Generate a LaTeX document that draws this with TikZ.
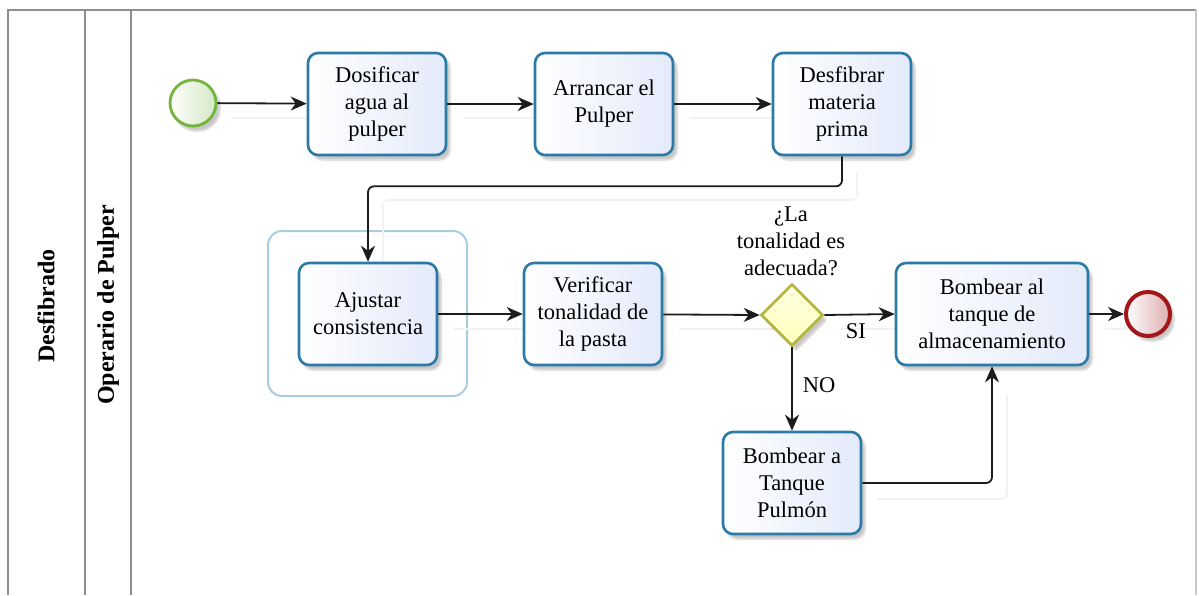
\documentclass[tikz,border=0pt]{standalone}
\usepackage{fontspec}
\setmainfont{Liberation Serif}
\usetikzlibrary{arrows.meta,shapes.geometric,shadows.blur}

\definecolor{taskline}{HTML}{2C7AA8}
\definecolor{taskfillA}{HTML}{FFFFFF}
\definecolor{taskfillB}{HTML}{E3EAFA}
\definecolor{groupline}{HTML}{A8CDE0}
\definecolor{gateline}{HTML}{B4B43C}
\definecolor{gatefill}{HTML}{FFFFE2}
\definecolor{startline}{HTML}{74B43E}
\definecolor{endline}{HTML}{A3171A}
\definecolor{poolline}{HTML}{8E8E8E}
\definecolor{flowcol}{HTML}{1C1C1C}

\tikzset{
  every node/.style={font=\fontsize{22.5}{27}\selectfont},
  softshadow/.style={blur shadow={shadow xshift=4pt, shadow yshift=-5pt, shadow opacity=22, shadow blur steps=6, shadow blur extra rounding=2pt}},
  task/.style={rectangle, rounded corners=10pt, draw=taskline, line width=2.6pt,
    left color=taskfillA, right color=taskfillB, minimum width=138pt, minimum height=102pt,
    align=center, inner sep=2pt, softshadow},
  gateway/.style={diamond, draw=gateline, line width=2.6pt, top color=gatefill, bottom color=gatefill!80!yellow!90!white,
    minimum width=62pt, minimum height=62pt, inner sep=0pt, softshadow},
  startev/.style={circle, draw=startline, line width=2.8pt, left color=white!85!startline!10, right color=startline!30!white,
    minimum size=46pt, inner sep=0pt, softshadow},
  endev/.style={circle, draw=endline, line width=4pt, left color=white, right color=endline!35!white,
    minimum size=44pt, inner sep=0pt, softshadow},
  flow/.style={draw=flowcol, line width=1.8pt, -{Stealth[length=16pt, width=14pt, inset=5pt]}},
  flowshade/.style={draw=black!5, line width=1.6pt},
  lanelabel/.style={font=\fontsize{24}{28}\selectfont\bfseries, rotate=90},
  lbl/.style={inner sep=0pt}
}

\begin{document}
\begin{tikzpicture}[x=1pt, y=-1pt]
  \useasboundingbox (0,0) rectangle (1199,595);

  % pool and lanes
  \draw[poolline, line width=2pt] (8,595) -- (8,10) -- (1196,10);
  \draw[poolline!50, line width=1.2pt] (1196,10) -- (1196,595);
  \draw[poolline, line width=2pt] (85,10) -- (85,595);
  \draw[poolline, line width=2pt] (131,10) -- (131,595);
  \node[lanelabel] (pool) at (46,306) {Desfibrado};
  \node[lanelabel] (lane) at (108,305) {Operario de Pulper};

  % group around the adjustment task
  \draw[groupline, line width=2pt, rounded corners=14pt] (268,231) rectangle (467,396);

  % connector shadows
  \begin{scope}[shift={(15,15)}]
    \draw[flowshade] (216,103) -- (306,103);
    \draw[flowshade] (448,103) -- (534,103);
    \draw[flowshade] (674,103) -- (771,103);
    \draw[flowshade, rounded corners=5pt] (842,157) -- (842,185) -- (368,185) -- (368,248);
    \draw[flowshade] (439,314) -- (523,314);
    \draw[flowshade] (664,314) -- (760,314);
    \draw[flowshade] (824,314) -- (894,314);
    \draw[flowshade] (1090,314) -- (1122,314);
    \draw[flowshade, rounded corners=5pt] (862,484) -- (992,484) -- (992,380);
  \end{scope}

  % events, tasks and gateway
  \node[startev] (start) at (193,103) {};
  \node[task] (dosif) at (377,104) {Dosificar\\agua al\\pulper};
  \node[task] (arran) at (604,104) {Arrancar el\\Pulper};
  \node[task] (desfib) at (842,104) {Desfibrar\\materia\\prima};
  \node[task] (ajust) at (368,314) {Ajustar\\consistencia};
  \node[task] (verif) at (593,314) {Verificar\\tonalidad de\\la pasta};
  \node[gateway] (gate) at (792,315) {};
  \node[align=center, inner sep=0pt] (question) at (791,241) {¿La\\tonalidad es\\adecuada?};
  \node[task, minimum width=192pt] (bombal) at (992,314) {Bombear al\\tanque de\\almacenamiento};
  \node[task] (pulmon) at (792,483) {Bombear a\\Tanque\\Pulmón};
  \node[endev] (fin) at (1148,314) {};

  % sequence flows
  \draw[flow] (start) -- (dosif);
  \draw[flow] (dosif) -- (arran);
  \draw[flow] (arran) -- (desfib);
  \draw[flow, rounded corners=6pt] (desfib.south) -- ++(0,30) -| (ajust.north);
  \draw[flow] (ajust) -- (verif);
  \draw[flow] (verif) -- (gate.west);
  \draw[flow] (gate.east) -- (bombal.west) node[lbl, pos=0.45, below=8pt] (si) {SI};
  \draw[flow] (gate.south) -- (pulmon.north) node[lbl, pos=0.45, right=10pt] (no) {NO};
  \draw[flow, rounded corners=6pt] (pulmon.east) -| (bombal.south);
  \draw[flow] (bombal) -- (fin);
\end{tikzpicture}
\end{document}
